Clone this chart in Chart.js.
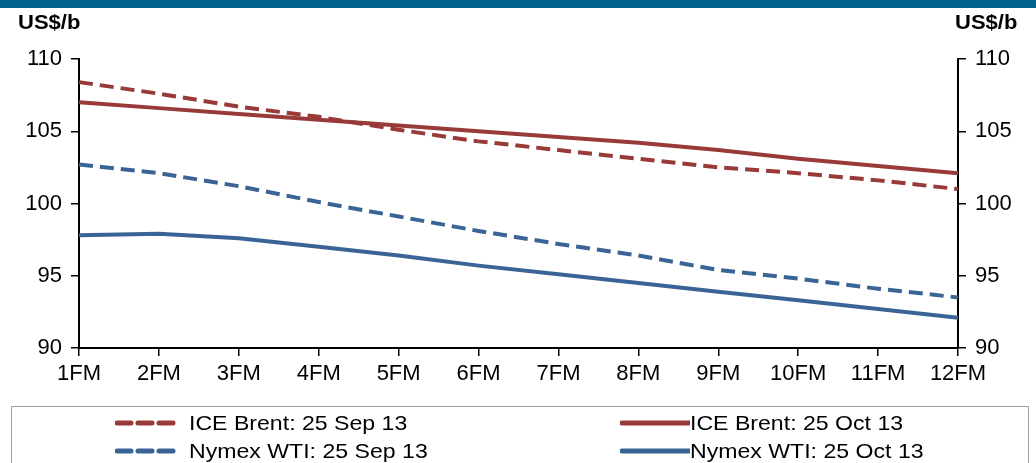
<!DOCTYPE html>
<html>
<head>
<meta charset="utf-8">
<script src="https://cdn.jsdelivr.net/npm/chart.js@4.4.0/dist/chart.umd.min.js"></script>
<style>
  body { margin: 0; background: #fff; font-family: "Liberation Sans", Arial, sans-serif; }
  #wrap { position: relative; width: 1036px; height: 463px; overflow: hidden; }
  #topbar { position: absolute; left: 0; top: 0; width: 1036px; height: 8px; background: #00628a; }
  .unit { position: absolute; top: 11px; font-size: 20px; font-weight: bold; color: #000; transform: scaleX(1.1); transform-origin: left top; }
  #legend { position: absolute; left: 11px; top: 406px; width: 1018px; height: 70px; border: 1px solid #a0a0a0; box-sizing: border-box; }
  .item { position: absolute; font-size: 21px; color: #000; white-space: nowrap; line-height: 20px; display: flex; align-items: center; }
  .item span { display: inline-block; transform: scaleX(1.1); transform-origin: left center; }
</style>
</head>
<body>
<div id="wrap">
  <canvas id="chart" width="1036" height="463"></canvas>
  <div id="topbar"></div>
  <div class="unit" style="left:18px">US$/b</div>
  <div class="unit" style="left:955px">US$/b</div>
  <div id="legend"></div>
</div>
<script>
const categories = ['1FM', '2FM', '3FM', '4FM', '5FM', '6FM', '7FM', '8FM', '9FM', '10FM', '11FM', '12FM'];
const brentSep = [108.4, 107.6, 106.7, 106.0, 105.1, 104.3, 103.7, 103.1, 102.5, 102.1, 101.6, 101.0];
const brentOct = [107.0, 106.6, 106.2, 105.8, 105.4, 105.0, 104.6, 104.2, 103.7, 103.1, 102.6, 102.1];
const wtiSep = [102.7, 102.1, 101.2, 100.1, 99.1, 98.1, 97.2, 96.4, 95.4, 94.8, 94.1, 93.5];
const wtiOct = [97.8, 97.9, 97.6, 97.0, 96.4, 95.7, 95.1, 94.5, 93.9, 93.3, 92.7, 92.1];
const yTicks = [90, 95, 100, 105, 110];

const red = '#983a37';
const blue = '#3a6496';

const series = [
    { label: 'ICE Brent: 25 Sep 13', data: brentSep, color: red, dash: [14, 7] },
    { label: 'ICE Brent: 25 Oct 13', data: brentOct, color: red, dash: [] },
    { label: 'Nymex WTI: 25 Sep 13', data: wtiSep, color: blue, dash: [14, 7] },
    { label: 'Nymex WTI: 25 Oct 13', data: wtiOct, color: blue, dash: [] }
];

const tickFont = { family: '"Liberation Sans", Arial, sans-serif', size: 22 };

function yAxis(pos, width) {
    return {
        type: 'linear',
        position: pos,
        min: 90,
        max: 110,
        afterBuildTicks: (s) => { s.ticks = yTicks.map(v => ({ value: v })); },
        afterFit: (s) => { s.width = width; },
        border: { display: true, color: '#000', width: 2 },
        grid: { drawOnChartArea: false, drawTicks: true, tickLength: 8, color: '#000', lineWidth: 1.5 },
        ticks: { color: '#000', font: tickFont, padding: 9 }
    };
}

new Chart(document.getElementById('chart'), {
    type: 'line',
    data: {
        labels: categories,
        datasets: series.map(s => ({
            label: s.label,
            data: s.data,
            borderColor: s.color,
            backgroundColor: s.color,
            borderWidth: 4,
            borderDash: s.dash,
            pointRadius: 0,
            tension: 0,
            fill: false
        }))
    },
    options: {
        responsive: false,
        animation: false,
        layout: { padding: { top: 59, bottom: 75, left: 0, right: 0 } },
        plugins: { legend: { display: false }, tooltip: { enabled: false } },
        scales: {
            x: {
                offset: false,
                afterFit: (s) => { s.height = 40; },
                border: { display: true, color: '#000', width: 2 },
                grid: { drawOnChartArea: false, drawTicks: true, tickLength: 8, color: '#000', lineWidth: 1.5 },
                ticks: { color: '#000', font: tickFont, padding: 5, maxRotation: 0, autoSkip: false }
            },
            y: yAxis('left', 79),
            y2: yAxis('right', 78)
        }
    }
});

// legend, two columns
const legend = document.getElementById('legend');
const spots = [[103, 6], [608, 6], [103, 34], [608, 34]];
series.forEach((s, i) => {
    const div = document.createElement('div');
    div.className = 'item';
    div.style.left = spots[i][0] + 'px';
    div.style.top = spots[i][1] + 'px';
    const w = s.dash.length ? 60 : 70;
    const dashAttr = s.dash.length ? `stroke-dasharray="14 7"` : '';
    div.innerHTML = `<svg width="${w + (s.dash.length ? 14 : 0)}" height="10"><line x1="2" y1="5" x2="${w}" y2="5" stroke="${s.color}" stroke-width="5" stroke-linecap="round" ${dashAttr}/></svg><span>${s.label}</span>`;
    legend.appendChild(div);
});
</script>
</body>
</html>
